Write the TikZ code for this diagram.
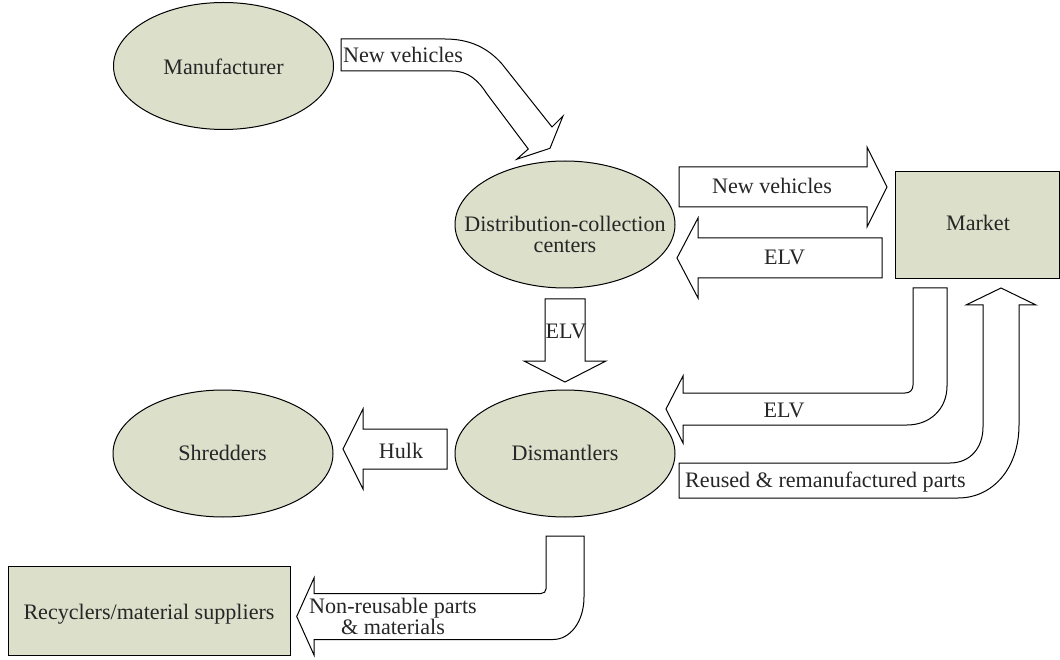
\documentclass[tikz,border=0pt]{standalone}
\usepackage{fontspec}
\setmainfont{Liberation Serif}
\usetikzlibrary{shapes.geometric}
\definecolor{fillg}{RGB}{220,224,203}
\definecolor{txt}{RGB}{38,38,38}
\begin{document}
\begin{tikzpicture}[x=1pt,y=-1pt,
  every node/.style={font=\fontsize{22.1}{21}\selectfont, text=txt},
  blob/.style={ellipse, draw, line width=1pt, fill=fillg, minimum width=220pt, minimum height=127pt, inner sep=0pt},
  box/.style={draw, line width=1pt, fill=fillg, inner sep=0pt, anchor=north west},
  blockarrow/.style={draw, line width=1pt, fill=white, line join=miter},
  lbl/.style={inner sep=0pt, align=center}]
\useasboundingbox (0,0) rectangle (1060,660);

% shapes
\node[blob] (manu) at (223.5,66) {};
\node[blob] (dist) at (565,224.5) {};
\node[blob] (shred) at (223,453.5) {};
\node[blob] (dism) at (565,453.5) {};
\node[box, minimum width=164pt, minimum height=107pt] (market) at (895,171) {};
\node[box, minimum width=282pt, minimum height=89pt] (recyc) at (8,566) {};

% block arrows
% manufacturer -> distribution (curved)
\path[blockarrow] (341,39) -- (445,39) .. controls (470,39) and (488,48) .. (502,64)
  -- (552,127) -- (563,116) -- (550,148.3) -- (516.7,159.3) -- (528.3,149)
  -- (487,94) .. controls (478,80) and (468,71) .. (452,71) -- (341,71) -- cycle;
% distribution -> market
\path[blockarrow] (679,167) -- (867,167) -- (867,147) -- (887,187) -- (867,227)
  -- (867,207) -- (679,207) -- cycle;
% market -> distribution
\path[blockarrow] (882,238) -- (698,238) -- (698,218) -- (677,258) -- (698,298)
  -- (698,278) -- (882,278) -- cycle;
% distribution -> dismantlers
\path[blockarrow] (545,299) -- (585,299) -- (585,361) -- (606,361) -- (565,382)
  -- (524,361) -- (545,361) -- cycle;
% dismantlers -> shredders
\path[blockarrow] (447,429) -- (363,429) -- (363,409) -- (343,449) -- (363,489)
  -- (363,469) -- (447,469) -- cycle;
% market -> dismantlers (bent)
\path[blockarrow] (913,288) -- (947,288) -- (947,386)
  .. controls (947,409) and (930,425) .. (907,425) -- (683,425) -- (683,443)
  -- (666,409) -- (683,376) -- (683,393) -- (905,393)
  .. controls (910,393) and (913,390) .. (913,385) -- cycle;
% dismantlers -> market (bent)
\path[blockarrow] (679,463) -- (950,463) .. controls (970,463) and (983,448) .. (983,427)
  -- (983,305) -- (966,305) -- (1001,288) -- (1036,305) -- (1019,305)
  -- (1019,425) .. controls (1019,468) and (993,498) .. (958,498)
  -- (679,498) -- cycle;
% dismantlers -> recyclers (bent)
\path[blockarrow] (546,536) -- (584,536) -- (584,597)
  .. controls (584,622) and (570,639.5) .. (553,639.5) -- (314,639.5) -- (314,655)
  -- (296.7,616.5) -- (314,578) -- (314,593.5) -- (541,593.5)
  .. controls (544,593.5) and (546,591.5) .. (546,589) -- cycle;

% texts
\node[lbl, anchor=base] (tmanu) at (223.5,75) {Manufacturer};
\node[lbl] (tdist) at (565,234) {Distribution-collection\\centers};
\node[lbl, anchor=base] (tshred) at (222.5,460.5) {Shredders};
\node[lbl, anchor=base] (tdism) at (565,460.5) {Dismantlers};
\node[lbl, anchor=base] (tmarket) at (978,231) {Market};
\node[lbl, anchor=base] (trecyc) at (149,619) {Recyclers/material suppliers};

\node[lbl, anchor=base west] (a1) at (343,62.3) {New vehicles};
\node[lbl, anchor=base] (a2) at (772,194) {New vehicles};
\node[lbl, anchor=base] (a3) at (784.5,265) {ELV};
\node[lbl, anchor=base] (a4) at (566,338) {ELV};
\node[lbl, anchor=base] (a5) at (401,458) {Hulk};
\node[lbl, anchor=base] (a6) at (784,417) {ELV};
\node[lbl, anchor=base west] (a7) at (685,487) {Reused \& remanufactured parts};
\node[lbl] (a8) at (393,616.5) {Non-reusable parts\\\& materials};
\end{tikzpicture}
\end{document}
